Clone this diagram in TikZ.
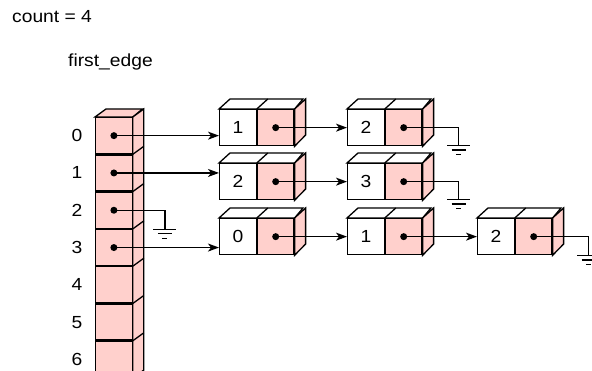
\documentclass[tikz,border=0pt]{standalone}
\usepackage{fontspec}
\setmainfont{Liberation Sans}[FakeStretch=1.1]
\usetikzlibrary{arrows.meta,calc}
\definecolor{cellpink}{RGB}{255,208,204}
\tikzset{
  edge/.style={line width=1.3pt, draw=black, line join=miter},
  txt/.style={font=\fontsize{17.5}{20}\selectfont, inner sep=0pt},
  keybox/.style={edge, fill=white, minimum width=36.5pt, minimum height=36pt,
    inner sep=0pt, anchor=north west, txt},
  ptrbox/.style={keybox, fill=cellpink},
  slotbox/.style={edge, fill=cellpink, minimum width=36.5pt, minimum height=36pt,
    inner sep=0pt},
  ptrline/.style={line width=1.3pt, -{Stealth[length=11pt,width=8pt,inset=3pt]}},
  dotmark/.style={fill=black},
}
\newcommand\listnode[4]{%
  \node[keybox] (#1k) at (#2,#3) {#4};
  \node[ptrbox] (#1p) at (#1k.north east) {};
  \draw[edge, fill=white] (#1k.north west) -- ++(11,-10) -- ++(73,0)
     -- (#1p.north east) -- cycle;
  \draw[edge] (#1k.north east) -- ++(11,-10);
  \draw[edge, fill=cellpink] (#1p.north east) -- ++(11,-10) -- ++(0,36)
     -- (#1p.south east) -- cycle;
  \fill[dotmark] (#1p.center) circle[radius=3.5];
}
\newcommand\gnd[1]{%
  \draw[edge] (#1) ++(-11.5,0) -- ++(23,0);
  \draw[edge] (#1) ++(-7,4.5) -- ++(14,0);
  \draw[edge] (#1) ++(-2.5,9) -- ++(5,0);
}
\begin{document}
\begin{tikzpicture}[x=1pt,y=-1pt]
\useasboundingbox (0,0) rectangle (592,371);

\node[txt, anchor=west] (cnt) at (12,17) {count = 4};
\node[txt, anchor=west] (fe) at (68,62) {first\_edge};

% array
\node[slotbox, anchor=north west] (s0) at (95,117) {};
\foreach \k [remember=\k as \prev (initially 0)] in {1,...,6}{
  \node[slotbox, anchor=north] (s\k) at (s\prev.south) {};
}
\draw[edge, fill=cellpink] (s0.north west) -- ++(11,-8) -- ++(36.5,0)
   -- (s0.north east) -- cycle;
\draw[edge, fill=cellpink] (s0.north east) -- ++(11,-8)
   -- ($(s6.south east)+(11,-8)$) -- (s6.south east) -- cycle;
\foreach \k in {0,...,5}{
  \draw[edge] (s\k.south east) -- ++(11,-8);
}
\foreach \k in {0,...,6}{
  \node[txt] (l\k) at ($(s\k.west)+(-18,0)$) {\k};
}
\foreach \k in {0,...,3}{
  \fill[dotmark] (s\k.center) circle[radius=3.5];
}

% list nodes
\listnode{a1}{219}{109}{1}
\listnode{a2}{347}{109}{2}
\listnode{b1}{219}{163}{2}
\listnode{b2}{347}{163}{3}
\listnode{c1}{219}{218}{0}
\listnode{c2}{347}{218}{1}
\listnode{c3}{477}{218}{2}

% connectors from the array
\draw[ptrline] (s0.center) -- (s0.center -| a1k.west);
\draw[ptrline] (s1.center) -- (s1.center -| b1k.west);
\draw[ptrline] (s3.center) -- (s3.center -| c1k.west);
\coordinate (g0) at ($(s2.center)+(51,19)$);
\draw[edge] (s2.center) -| (g0);
\gnd{g0}

% connectors between list nodes
\draw[ptrline] (a1p.center) -- (a2k.west);
\draw[ptrline] (b1p.center) -- (b2k.west);
\draw[ptrline] (c1p.center) -- (c2k.west);
\draw[ptrline] (c2p.center) -- (c3k.west);

% grounds at list ends
\coordinate (g1) at ($(a2p.center)+(55,18)$);
\draw[edge] (a2p.center) -| (g1);
\gnd{g1}
\coordinate (g2) at ($(b2p.center)+(55,18)$);
\draw[edge] (b2p.center) -| (g2);
\gnd{g2}
\coordinate (g3) at ($(c3p.center)+(55,19)$);
\draw[edge] (c3p.center) -| (g3);
\gnd{g3}
\end{tikzpicture}
\end{document}
